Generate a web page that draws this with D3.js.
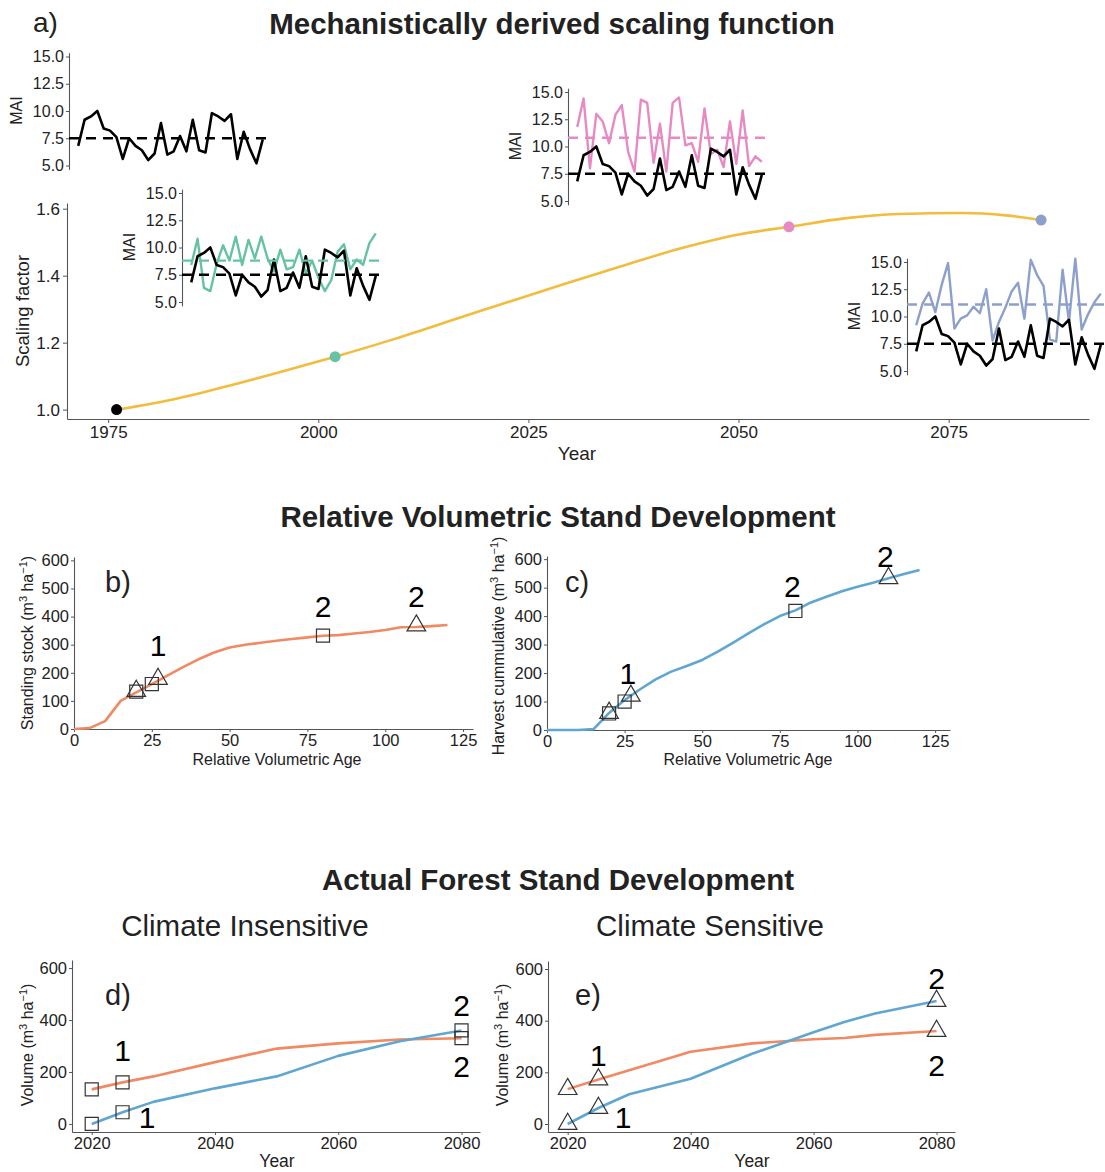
<!DOCTYPE html>
<html>
<head>
<meta charset="utf-8">
<script src="https://cdn.jsdelivr.net/npm/d3@7"></script>
<style>
  body { margin: 0; background: #fff; }
  svg text { font-family: "Liberation Sans", Arial, sans-serif; }
</style>
</head>
<body>
<div id="fig"></div>
<script>

// ---- data ----

// a) scaling factor over time
var mainYears = [1976, 1983, 1989, 1995.7, 2002, 2009.2, 2017.6, 2028.9, 2035, 2043.5, 2050, 2056, 2062.6, 2069, 2076.7, 2081.8, 2086];
var mainScale = [1.000, 1.032, 1.069, 1.114, 1.158, 1.212, 1.281, 1.372, 1.420, 1.484, 1.523, 1.546, 1.571, 1.584, 1.587, 1.580, 1.566];
var dotYears = [1976, 2002, 2056, 2086];
var dotValues = [1.000, 1.158, 1.546, 1.566];
var dotColors = ["#000000", "#66C2A5", "#E78AC3", "#8DA0CB"];

// MAI insets (30 years each)
var maiBlack = [6.8, 9.2, 9.5, 10.0, 8.4, 8.2, 7.6, 5.6, 7.5, 6.8, 6.4, 5.5, 6.1, 8.9, 6.0, 6.3, 7.7, 6.3, 9.2, 6.4, 6.2, 9.8, 9.5, 9.1, 9.7, 5.6, 8.1, 6.5, 5.2, 7.4];
var maiGreen = [8.4, 10.8, 6.3, 6.0, 8.5, 10.2, 8.8, 11.0, 8.4, 10.7, 9.0, 11.0, 9.0, 7.8, 9.8, 8.0, 8.2, 9.8, 7.6, 8.8, 7.2, 6.0, 7.0, 9.6, 10.3, 8.0, 8.9, 8.4, 10.4, 11.3];
var maiPink = [11.8, 14.4, 8.0, 13.0, 12.3, 10.3, 12.9, 13.8, 9.5, 7.7, 14.3, 14.0, 8.5, 12.1, 7.7, 14.0, 14.5, 10.1, 10.3, 8.6, 13.5, 9.3, 9.7, 8.1, 12.3, 8.4, 13.3, 8.2, 9.1, 8.6];
var maiBlue = [9.2, 11.2, 12.2, 10.4, 12.9, 14.9, 8.9, 9.8, 10.1, 10.9, 10.3, 12.5, 7.8, 9.5, 10.8, 12.3, 13.1, 9.8, 15.2, 13.8, 12.8, 7.9, 7.7, 14.3, 9.5, 15.3, 8.8, 10.2, 11.3, 12.1];
var meanBlack = 7.5, meanGreen = 8.8, meanPink = 10.8, meanBlue = 11.1;
var maiTicks = [5, 7.5, 10, 12.5, 15];

// b) standing stock vs relative volumetric age
var ageB = [0, 5, 10, 15, 20, 25, 30, 35, 40, 45, 50, 55, 60, 65, 70, 75, 80, 85, 90, 95, 100, 105, 110, 115, 120];
var stockB = [0, 3, 28, 100, 130, 160, 190, 220, 248, 272, 290, 300, 307, 314, 320, 326, 332, 334, 340, 345, 352, 362, 363, 366, 370];
var sqAgeB = [20, 25, 80], sqValB = [133, 160, 332];
var triAgeB = [20, 27, 110], triValB = [135, 178, 368];
var lblB = [{t: "1", x: 27, y: 298}, {t: "2", x: 80, y: 437}, {t: "2", x: 110, y: 472}];

// c) cumulative harvest vs relative volumetric age
var ageC = [0, 5, 10, 15, 20, 25, 30, 35, 40, 45, 50, 55, 60, 65, 70, 75, 80, 85, 90, 95, 100, 105, 110, 115, 120];
var harvC = [0, 0, 0, 3, 60, 105, 143, 178, 205, 225, 246, 275, 307, 340, 372, 400, 420, 448, 468, 487, 503, 517, 533, 548, 562];
var sqAgeC = [20, 25, 80], sqValC = [58, 100, 418];
var triAgeC = [20, 27, 110], triValC = [60, 120, 533];
var lblC = [{t: "1", x: 26, y: 200}, {t: "2", x: 79, y: 505}, {t: "2", x: 109, y: 610}];

// d) climate insensitive
var yearsD = [2020, 2025, 2030, 2040, 2050, 2060, 2070, 2080];
var stockD = [133, 160, 183, 238, 290, 310, 325, 330];
var harvD = [0, 45, 85, 137, 183, 262, 318, 360];
var markYearsD = [2020, 2025, 2080];
var lblD = [{t: "1", x: 2025, y: 283}, {t: "1", x: 2029, y: 25}, {t: "2", x: 2080, y: 457}, {t: "2", x: 2080, y: 222}];

// e) climate sensitive
var yearsE = [2020, 2025, 2030, 2040, 2050, 2060, 2065, 2070, 2080];
var stockE = [135, 172, 208, 280, 312, 328, 333, 345, 360];
var harvE = [0, 62, 115, 175, 272, 355, 395, 428, 476];
var markYearsE = [2020, 2025, 2080];
var lblE = [{t: "1", x: 2025, y: 266}, {t: "1", x: 2029, y: 25}, {t: "2", x: 2080, y: 563}, {t: "2", x: 2080, y: 228}];

var volTicks = [0, 200, 400, 600];
var yearTicksDE = [2020, 2040, 2060, 2080];
var ageTicks = [0, 25, 50, 75, 100, 125];
var stockTicks = [0, 100, 200, 300, 400, 500, 600];

// ---- drawing ----
var width = 1105, height = 1172;
var colOrange = "#EF8A62", colBlue = "#5FA6D1", colYellow = "#F2BC3C";
var axisCol = "#555555", textCol = "#222222";

var svg = d3.select("#fig").append("svg")
	.attr("width", width)
	.attr("height", height);
svg.append("rect").attr("width", width).attr("height", height).attr("fill", "#fff");

function styleAxis(g, fs) {
	g.select(".domain").attr("stroke", axisCol).attr("stroke-width", 1.1);
	g.selectAll(".tick line").attr("stroke", axisCol);
	g.selectAll(".tick text").attr("fill", textCol).style("font-size", fs + "px");
}

function addText(x, y, txt, fs, opts) {
	opts = opts || {};
	var t = svg.append("text")
		.attr("x", x).attr("y", y)
		.attr("text-anchor", opts.anchor || "middle")
		.attr("fill", textCol)
		.style("font-size", fs + "px")
		.style("font-weight", opts.bold ? "bold" : "normal")
		.text(txt);
	if (opts.central) t.attr("dominant-baseline", "central");
	return t;
}

// rotated y label with m3 ha-1 superscripts
function unitLabel(x, y, prefix, fs) {
	var t = svg.append("text")
		.attr("transform", "translate(" + x + "," + y + ") rotate(-90)")
		.attr("text-anchor", "middle")
		.attr("fill", textCol)
		.style("font-size", fs + "px");
	t.append("tspan").text(prefix + " (m");
	t.append("tspan").attr("dy", -6).style("font-size", (fs - 5) + "px").text("3");
	t.append("tspan").attr("dy", 6).text(" ha");
	t.append("tspan").attr("dy", -6).style("font-size", (fs - 5) + "px").text("\u22121");
	t.append("tspan").attr("dy", 6).text(")");
}

// titles
addText(33, 32, "a)", 28, {anchor: "start"});
addText(552, 34, "Mechanistically derived scaling function", 29.5, {bold: true});
addText(558, 527, "Relative Volumetric Stand Development", 29.5, {bold: true});
addText(558, 890, "Actual Forest Stand Development", 29.5, {bold: true});
addText(245, 936, "Climate Insensitive", 29.5);
addText(710, 936, "Climate Sensitive", 29.5);

// ---- panel a ----
var aL = 67, aR = 1089, aT = 203, aB = 419;
var xA = d3.scaleLinear().domain([1970.1, 2091.7]).range([aL, aR]);
var yA = d3.scaleLinear().domain([0.972, 1.617]).range([aB, aT]);

svg.append("g").attr("transform", "translate(0," + aB + ")")
	.call(d3.axisBottom(xA).tickValues([1975, 2000, 2025, 2050, 2075]).tickFormat(d3.format("d")).tickSize(4).tickSizeOuter(0).tickPadding(3))
	.call(styleAxis, 17);
svg.append("g").attr("transform", "translate(" + aL + ",0)")
	.call(d3.axisLeft(yA).tickValues([1.0, 1.2, 1.4, 1.6]).tickFormat(d3.format(".1f")).tickSize(4).tickSizeOuter(0).tickPadding(3))
	.call(styleAxis, 17);

var mainPts = mainYears.map(function(y, i) { return [y, mainScale[i]]; });
svg.append("path")
	.datum(mainPts)
	.attr("fill", "none")
	.attr("stroke", colYellow)
	.attr("stroke-width", 2.6)
	.attr("d", d3.line().curve(d3.curveMonotoneX)
		.x(function(d) { return xA(d[0]); })
		.y(function(d) { return yA(d[1]); }));

svg.selectAll(".mdot")
	.data(dotYears)
	.enter().append("circle")
	.attr("cx", function(d) { return xA(d); })
	.attr("cy", function(d, i) { return yA(dotValues[i]); })
	.attr("r", 5.5)
	.attr("fill", function(d, i) { return dotColors[i]; });

addText(577, 460, "Year", 19);
svg.append("text")
	.attr("transform", "translate(29,311) rotate(-90)")
	.attr("text-anchor", "middle")
	.attr("fill", textCol)
	.style("font-size", "18.5px")
	.text("Scaling factor");

// ---- MAI insets ----
function drawInset(ax, y15, other, otherMean, otherCol) {
	var xi = d3.scaleLinear().domain([-0.45, 31.45]).range([ax, ax + 203]);
	var yi = d3.scaleLinear().domain([4.65, 15.35]).range([y15 + 10.35 * 10.9, y15 - 0.35 * 10.9]);
	var g = svg.append("g");
	g.append("g").attr("transform", "translate(" + ax + ",0)")
		.call(d3.axisLeft(yi).tickValues(maiTicks).tickFormat(d3.format(".1f")).tickSize(3).tickSizeOuter(0).tickPadding(2))
		.call(styleAxis, 16);
	var line = d3.line()
		.x(function(d, i) { return xi(i + 1); })
		.y(function(d) { return yi(d); });
	if (other) {
		g.append("path").datum(other)
			.attr("fill", "none").attr("stroke", otherCol).attr("stroke-width", 2.4)
			.attr("stroke-linejoin", "round")
			.attr("d", line);
	}
	g.append("path").datum(maiBlack)
		.attr("fill", "none").attr("stroke", "#000").attr("stroke-width", 2.6)
		.attr("stroke-linejoin", "round")
		.attr("d", line);
	var xr = xi.range();
	g.append("line")
		.attr("x1", xr[0]).attr("x2", xr[1])
		.attr("y1", yi(meanBlack)).attr("y2", yi(meanBlack))
		.attr("stroke", "#000").attr("stroke-width", 2.6).attr("stroke-dasharray", "10,7");
	if (other) {
		g.append("line")
			.attr("x1", xr[0]).attr("x2", xr[1])
			.attr("y1", yi(otherMean)).attr("y2", yi(otherMean))
			.attr("stroke", otherCol).attr("stroke-width", 2.4).attr("stroke-dasharray", "10,7");
	}
	svg.append("text")
		.attr("transform", "translate(" + (ax - 47) + "," + (y15 + 54) + ") rotate(-90)")
		.attr("text-anchor", "middle")
		.attr("fill", textCol)
		.style("font-size", "16px")
		.text("MAI");
}

drawInset(69, 56.5, null);
drawInset(568, 92, maiPink, meanPink, "#E78AC3");
drawInset(182, 193, maiGreen, meanGreen, "#66C2A5");
drawInset(907, 262, maiBlue, meanBlue, "#8DA0CB");

// ---- generic small panel ----
function drawMarks(xs, ys, xv, yv, type) {
	var sym = d3.symbol().type(type === "sq" ? d3.symbolSquare : d3.symbolTriangle).size(type === "sq" ? 170 : 150);
	svg.selectAll(null)
		.data(xv)
		.enter().append("path")
		.attr("transform", function(d, i) { return "translate(" + xs(d) + "," + ys(yv[i]) + ")"; })
		.attr("d", sym)
		.attr("fill", "none")
		.attr("stroke", "#333")
		.attr("stroke-width", 1.2);
}

function drawLabels(xs, ys, lbls) {
	lbls.forEach(function(l) {
		addText(xs(l.x), ys(l.y), l.t, 30, {central: true}).attr("fill", "#000");
	});
}

function panelAxes(xs, ys, top, bottom, left, xt, yt, xfmt) {
	svg.append("g").attr("transform", "translate(0," + bottom + ")")
		.call(d3.axisBottom(xs).tickValues(xt).tickFormat(xfmt).tickSize(3).tickSizeOuter(0).tickPadding(2))
		.call(styleAxis, 16.5);
	svg.append("g").attr("transform", "translate(" + left + ",0)")
		.call(d3.axisLeft(ys).tickValues(yt).tickFormat(d3.format("d")).tickSize(3).tickSizeOuter(0).tickPadding(2))
		.call(styleAxis, 16.5);
}

function drawCurve(xs, ys, xv, yv, col) {
	svg.append("path")
		.datum(xv.map(function(x, i) { return [x, yv[i]]; }))
		.attr("fill", "none")
		.attr("stroke", col)
		.attr("stroke-width", 2.6)
		.attr("stroke-linejoin", "round")
		.attr("d", d3.line()
			.x(function(d) { return xs(d[0]); })
			.y(function(d) { return ys(d[1]); }));
}

// ---- panel b ----
var xB = d3.scaleLinear().domain([0, 128.2]).range([74, 473]);
var yB = d3.scaleLinear().domain([0, 612]).range([729, 557]);
panelAxes(xB, yB, 557, 729, 74, ageTicks, stockTicks, d3.format("d"));
drawCurve(xB, yB, ageB, stockB, colOrange);
drawMarks(xB, yB, sqAgeB, sqValB, "sq");
drawMarks(xB, yB, triAgeB, triValB, "tri");
drawLabels(xB, yB, lblB);
addText(105, 592, "b)", 29, {anchor: "start"});
addText(277, 765, "Relative Volumetric Age", 16);
unitLabel(33, 643, "Standing stock", 16);

// ---- panel c ----
var xC = d3.scaleLinear().domain([0, 129.8]).range([547, 950]);
var yC = d3.scaleLinear().domain([0, 611]).range([730, 556]);
panelAxes(xC, yC, 556, 730, 547, ageTicks, stockTicks, d3.format("d"));
drawCurve(xC, yC, ageC, harvC, colBlue);
drawMarks(xC, yC, sqAgeC, sqValC, "sq");
drawMarks(xC, yC, triAgeC, triValC, "tri");
drawLabels(xC, yC, lblC);
addText(565, 592, "c)", 29, {anchor: "start"});
addText(748, 765, "Relative Volumetric Age", 16);
unitLabel(504, 646, "Harvest cummulative", 16);

// ---- panel d ----
var xD = d3.scaleLinear().domain([2016.8, 2083]).range([72, 480]);
var yD = d3.scaleLinear().domain([-31, 631]).range([1132, 960]);
panelAxes(xD, yD, 960, 1132, 72, yearTicksDE, volTicks, d3.format("d"));
drawCurve(xD, yD, yearsD, stockD, colOrange);
drawCurve(xD, yD, yearsD, harvD, colBlue);
drawMarks(xD, yD, markYearsD, markYearsD.map(function(y) { return stockD[yearsD.indexOf(y)]; }), "sq");
drawMarks(xD, yD, markYearsD, markYearsD.map(function(y) { return harvD[yearsD.indexOf(y)]; }), "sq");
drawLabels(xD, yD, lblD);
addText(105, 1005, "d)", 29, {anchor: "start"});
addText(277, 1167, "Year", 17.5);
unitLabel(33, 1045, "Volume", 16);

// ---- panel e ----
var xE = d3.scaleLinear().domain([2016.8, 2083]).range([548, 955]);
var yE = d3.scaleLinear().domain([-31, 631]).range([1132, 961]);
panelAxes(xE, yE, 961, 1132, 548, yearTicksDE, volTicks, d3.format("d"));
drawCurve(xE, yE, yearsE, stockE, colOrange);
drawCurve(xE, yE, yearsE, harvE, colBlue);
drawMarks(xE, yE, markYearsE, markYearsE.map(function(y) { return stockE[yearsE.indexOf(y)]; }), "tri");
drawMarks(xE, yE, markYearsE, markYearsE.map(function(y) { return harvE[yearsE.indexOf(y)]; }), "tri");
drawLabels(xE, yE, lblE);
addText(575, 1005, "e)", 29, {anchor: "start"});
addText(752, 1167, "Year", 17.5);
unitLabel(508, 1045, "Volume", 16);

</script>
</body>
</html>
